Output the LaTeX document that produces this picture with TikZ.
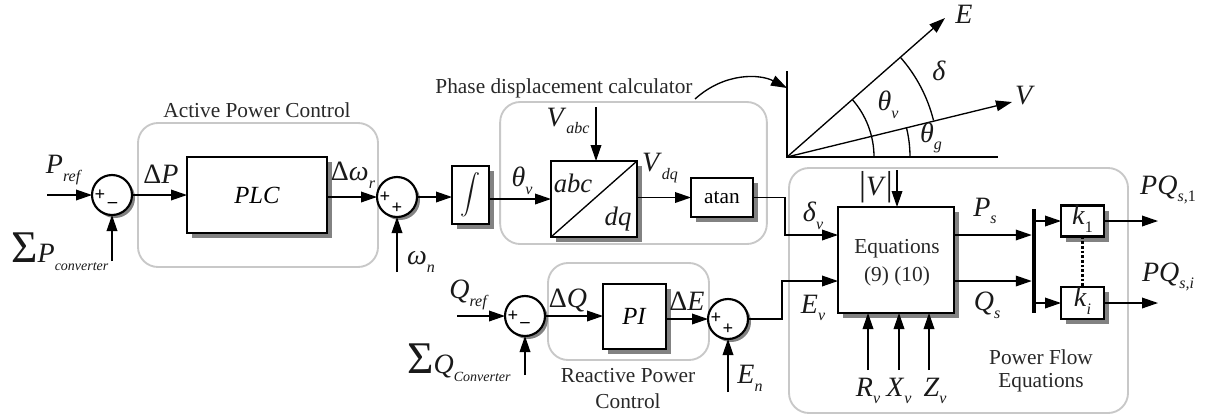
\documentclass[tikz,border=0pt]{standalone}
\usepackage{fontspec}
\setmainfont{Liberation Serif}
\usetikzlibrary{arrows.meta}

\pgfdeclarelayer{shadowlayer}
\pgfsetlayers{shadowlayer,main}

\newcommand{\subtxt}[3][12]{\textit{#2}\raisebox{-0.6ex}{\fontsize{#1}{#1}\selectfont\textit{#3}}}
\newcommand{\subup}[3]{\textit{#1}\raisebox{-0.6ex}{\fontsize{12}{12}\selectfont\textit{#2}\textup{#3}}}

\definecolor{shadowgray}{RGB}{130,130,130}
\definecolor{groupgray}{RGB}{200,200,200}
\definecolor{captgray}{RGB}{40,40,40}
\definecolor{labgray}{RGB}{25,25,25}

\tikzset{every picture/.style={line width=0.75pt}}
\tikzset{
  groupbox/.style={draw=groupgray,line width=1.4pt,fill=white,rounded corners=15pt,inner sep=0pt,outer sep=0pt},
  blockbox/.style={draw,line width=1.7pt,fill=white,inner sep=0pt,outer sep=0pt},
  sumcircle/.style={circle,draw,line width=1.6pt,fill=white,inner sep=0pt,outer sep=0pt,minimum size=30pt},
  softshadow/.style={fill=shadowgray},
  sig/.style={line width=1pt,-{Triangle[length=12pt,width=8pt]}},
  plainline/.style={line width=1pt},
  capt/.style={inner sep=0pt,font=\fontsize{16}{18}\selectfont,text=captgray},
  lab/.style={inner sep=0pt,font=\fontsize{21}{23}\selectfont,text=labgray},
  signmark/.style={inner sep=0pt,font=\fontsize{14}{14}\selectfont\bfseries},
}

\begin{document}
\begin{tikzpicture}[x=0.75pt,y=0.75pt,yscale=-1,xscale=1]
\useasboundingbox (0,0) rectangle (1205,419);

%Blocks
\node (plcbox) [blockbox,minimum width=105pt,minimum height=57pt,font=\fontsize{18.5}{20}\selectfont] at (257,195) {\textit{PLC}};
\node (intbox) [blockbox,minimum width=27.75pt,minimum height=43.5pt] at (470.5,195) {};
\node (dqbox) [blockbox,minimum width=64.5pt,minimum height=57pt] at (594,199) {};
\node (atanbox) [blockbox,minimum width=46.5pt,minimum height=29.25pt,font=\fontsize{16}{18}\selectfont] at (722,197.5) {atan};
\node (pibox) [blockbox,minimum width=47.25pt,minimum height=48.75pt,font=\fontsize{18.5}{20}\selectfont] at (634.5,316.5) {\textit{PI}};
\node (eqbox) [blockbox,minimum width=87pt,minimum height=79.5pt] at (896,260) {};
\node (konebox) [blockbox,minimum width=32.25pt,minimum height=23.25pt] at (1082.5,221) {};
\node (kibox) [blockbox,minimum width=32.25pt,minimum height=24pt] at (1082.5,303) {};
\node (busbar) [fill=black,inner sep=0pt,outer sep=0pt,minimum width=3.4pt,minimum height=78pt] at (1034,261) {};

%Summing circles
\node (sump) [sumcircle] at (112,195) {};
\node (sumw) [sumcircle] at (397,197) {};
\node (sumq) [sumcircle] at (525,316) {};
\node (sume) [sumcircle] at (728,319) {};

%Group boxes and shadows
\begin{pgfonlayer}{shadowlayer}
\node (apcgroup) [groupbox,minimum width=180pt,minimum height=108pt] at (258,195) {};
\node (pdcgroup) [groupbox,minimum width=200pt,minimum height=106.5pt] at (633.5,173) {};
\node (rpcgroup) [groupbox,minimum width=120.75pt,minimum height=72.75pt] at (628.5,311.5) {};
\node (pfegroup) [groupbox,minimum width=254.25pt,minimum height=183.75pt] at (958.5,290.5) {};
\foreach \blockname in {plcbox,intbox,dqbox,atanbox,pibox,eqbox,konebox,kibox}
  \fill [softshadow] ([shift={(5,5)}]\blockname.south west) rectangle ([shift={(5,5)}]\blockname.north east);
\foreach \sumname in {sump,sumw,sumq,sume}
  \fill [softshadow] ([shift={(3,3)}]\sumname.center) circle [radius=20];
\end{pgfonlayer}

%Signs
\node (sumpa) [signmark] at (100,195) {+};
\node (sumpb) [signmark] at (112.5,205) {\textendash};
\node (sumwa) [signmark] at (385,197) {+};
\node (sumwb) [signmark] at (397,208) {+};
\node (sumqa) [signmark] at (513,316) {+};
\node (sumqb) [signmark] at (525,325) {\textendash};
\node (sumea) [signmark] at (716,318) {+};
\node (sumeb) [signmark] at (728,329) {+};

%Free ends
\coordinate (prefin) at (47,195);
\coordinate (psumin) at (112,261);
\coordinate (wnin) at (397,272);
\coordinate (vabcin) at (596,107);
\coordinate (qrefin) at (457,316);
\coordinate (qsumin) at (525,375);
\coordinate (enin) at (728,392);
\coordinate (rvin) at (868,370);
\coordinate (xvin) at (899,370);
\coordinate (zvin) at (929,370);
\coordinate (vmagin) at (897,170);
\coordinate (konein) at (1158,221);
\coordinate (kiin) at (1158,303);
\coordinate (atanbend) at (785,235);
\coordinate (sumebend) at (782,281);
\coordinate (curvestart) at (695,99);

%Straight Lines
\draw [sig] (prefin) -- (sump);
\draw [sig] (psumin) -- (sump);
\draw [sig] (sump) -- (plcbox);
\draw [sig] (plcbox.east |- sumw.west) -- (sumw.west);
\draw [sig] (wnin) -- (sumw);
\draw [sig] (sumw.east) -- (intbox.west |- sumw.east);
\draw [sig] (intbox.east |- dqbox.west) -- (dqbox.west);
\draw [sig] (vabcin) -- (vabcin |- dqbox.north);
\draw [sig] (dqbox.east |- atanbox.west) -- (atanbox.west);
\draw [sig] (atanbox.east) -| (atanbend) -- (atanbend -| eqbox.west);
\draw [sig] (qrefin) -- (sumq);
\draw [sig] (qsumin) -- (sumq);
\draw [sig] (sumq) -- (sumq -| pibox.west);
\draw [sig] (pibox.east |- sume) -- (sume.west);
\draw [sig] (enin) -- (sume);
\draw [sig] (sume.east) -| (sumebend) -- (sumebend -| eqbox.west);
\draw [sig] (rvin) -- (rvin |- eqbox.south);
\draw [sig] (xvin) -- (xvin |- eqbox.south);
\draw [sig] (zvin) -- (zvin |- eqbox.south);
\draw [sig] (vmagin) -- (vmagin |- eqbox.north);
\draw [sig] (atanbend -| eqbox.east) -- (atanbend -| busbar.west);
\draw [sig] (sumebend -| eqbox.east) -- (sumebend -| busbar.west);
\draw [sig] (busbar.east |- konebox.west) -- (konebox.west);
\draw [sig] (busbar.east |- kibox.west) -- (kibox.west);
\draw [sig] (konebox.east) -- (konein);
\draw [sig] (kibox.east) -- (kiin);
\draw [line width=1.6pt,dash pattern={on 2pt off 1.5pt}] (konebox.south) -- (kibox.north);
\draw [plainline] (dqbox.south west) -- (dqbox.north east);

%Curve Lines
\draw [sig] (curvestart) .. controls (725,72) and (760,74) .. (787,88);

%Phasor diagram
\coordinate (phorigin) at (787,157);
\coordinate (phaxtop) at (787,71);
\coordinate (phaxend) at (998,157);
\coordinate (ephasor) at (945,18);
\coordinate (vphasor) at (1012,102);
\draw [plainline] (phaxtop) -- (phorigin) -- (phaxend);
\draw [sig] (phorigin) -- (ephasor);
\draw [sig] (phorigin) -- (vphasor);
\draw [plainline] (phorigin) ++(-41.4:151) arc[start angle=-41.4,end angle=-14,radius=151];
\draw [plainline] (phorigin) ++(-41.4:87) arc[start angle=-41.4,end angle=0,radius=87];
\draw [plainline] (phorigin) ++(-14:123) arc[start angle=-14,end angle=0,radius=123];

% Text Node
\node (apctitle) [capt] at (257,110) {Active Power Control};
\node (pdctitle) [capt] at (564,88) {Phase displacement calculator};
\node (rpctitlea) [capt] at (628,376) {Reactive Power};
\node (rpctitleb) [capt] at (628,401) {Control};
\node (pfetitlea) [capt] at (1041,357) {Power Flow};
\node (pfetitleb) [capt] at (1041,383) {Equations};
\node (eqtexta) [capt] at (897,249) {Equations};
\node (eqtextb) [capt] at (897,276) {(9) (10)};

\node (preflab) [lab] at (64,170) {\subtxt{P}{ref}};
\node (psumlab) [lab,anchor=west] at (11,252) {{\fontsize{34}{34}\selectfont Σ}\subtxt[10.5]{P}{converter}};
\node (dplab) [lab] at (161,174) {Δ\textit{P}};
\node (dwlab) [lab] at (353,175) {Δ\subtxt{ω}{r}};
\node (wnlab) [lab] at (421,262) {\subtxt{ω}{n}};
\node (intlab) [lab,scale=1.5,font=\fontsize{17}{17}\selectfont] at (470.5,195) {$\displaystyle\int$};
\node (thvlab) [lab] at (522,181) {\subtxt{θ}{v}};
\node (vabclab) [lab] at (568,121) {\subtxt{V}{abc}};
\node (abclab) [lab,font=\fontsize{20}{20}\selectfont] at (573,183) {\textit{abc}};
\node (dqlab) [lab,font=\fontsize{20}{20}\selectfont] at (618,219) {\textit{dq}};
\node (vdqlab) [lab] at (660,168) {\subtxt{V}{dq}};
\node (qreflab) [lab] at (469,295) {\subtxt{Q}{ref}};
\node (qsumlab) [lab,anchor=west] at (407,363) {{\fontsize{34}{34}\selectfont Σ}\subtxt[10.5]{Q}{Converter}};
\node (dqlabel) [lab] at (568,300) {Δ\textit{Q}};
\node (delabel) [lab] at (687,301) {Δ\textit{E}};
\node (enlab) [lab] at (750,378) {\subtxt{E}{n}};
\node (dvlab) [lab] at (813,216) {\subtxt{δ}{v}};
\node (evlab) [lab] at (813,308) {\subtxt{E}{v}};
\node (vmaglab) [lab] at (876,187) {{\fontsize{26}{26}\selectfont|}\textit{V}{\fontsize{26}{26}\selectfont|}};
\node (pslab) [lab] at (985,211) {\subtxt{P}{s}};
\node (qslab) [lab] at (987,305) {\subtxt{Q}{s}};
\node (rvlab) [lab] at (868,391) {\subtxt{R}{v}};
\node (xvlab) [lab] at (899,391) {\subtxt{X}{v}};
\node (zvlab) [lab] at (935,391) {\subtxt{Z}{v}};
\node (konelab) [lab] at (1082.5,219) {\subup{k}{}{1}};
\node (kilab) [lab] at (1082.5,301) {\subtxt{k}{i}};
\node (pqonelab) [lab] at (1168,190) {\subup{PQ}{s,}{1}};
\node (pqilab) [lab] at (1168,277) {\subtxt{PQ}{s,i}};
\node (elab) [lab] at (964,14) {\textit{E}};
\node (vlab) [lab] at (1025,96) {\textit{V}};
\node (deltalab) [lab] at (939,71) {\textit{δ}};
\node (thetavlab) [lab] at (888,105) {\subtxt{θ}{v}};
\node (thetaglab) [lab] at (931,138) {\subtxt{θ}{g}};

\end{tikzpicture}
\end{document}
